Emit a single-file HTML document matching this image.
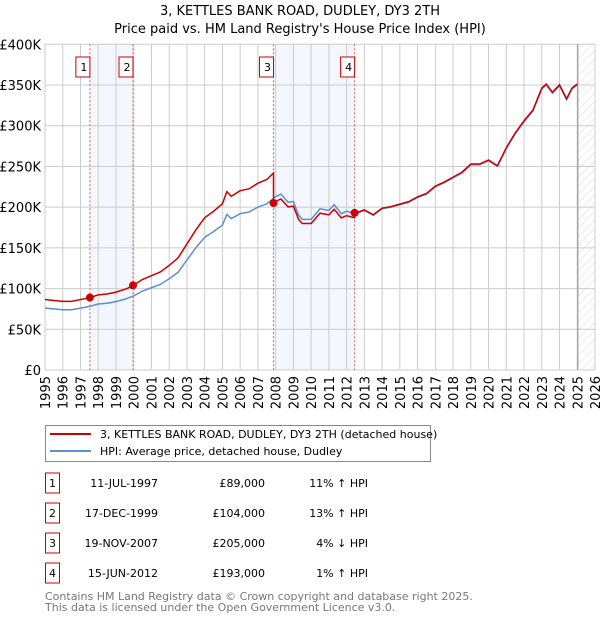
<!DOCTYPE html>
<html><head><meta charset="utf-8"><style>
body{margin:0;background:#fff;width:600px;height:620px;overflow:hidden;font-family:"DejaVu Sans","Liberation Sans",sans-serif;}
svg text{font-family:"DejaVu Sans","Liberation Sans",sans-serif;}
</style></head><body>
<svg id="c" width="600" height="620" xmlns="http://www.w3.org/2000/svg">
<defs><pattern id="hatch" width="6" height="6" patternUnits="userSpaceOnUse" patternTransform="rotate(45)"><line x1="0" y1="0" x2="0" y2="6" stroke="#d8d8d8" stroke-width="1"/></pattern></defs>
<text x="300" y="15" text-anchor="middle" font-size="13">3, KETTLES BANK ROAD, DUDLEY, DY3 2TH</text>
<text x="300" y="33" text-anchor="middle" font-size="13">Price paid vs. HM Land Registry's House Price Index (HPI)</text>
<g id="plot"></g>
<g>
<rect x="45.5" y="425.5" width="385" height="36" fill="#fff" stroke="#888"/>
<line x1="50" y1="434" x2="91" y2="434" stroke="#cc0000" stroke-width="2"/>
<text x="100" y="438" font-size="11">3, KETTLES BANK ROAD, DUDLEY, DY3 2TH (detached house)</text>
<line x1="50" y1="451" x2="91" y2="451" stroke="#5b8fd0" stroke-width="2"/>
<text x="100" y="455" font-size="11">HPI: Average price, detached house, Dudley</text>
</g>
<g id="table" font-size="11"></g>
<text x="45" y="600" font-size="11" fill="#777">Contains HM Land Registry data © Crown copyright and database right 2025.</text>
<text x="45" y="611" font-size="11" fill="#777">This data is licensed under the Open Government Licence v3.0.</text>
</svg>
<script>
const hpiYears=[1995,1995.5,1996,1996.5,1997,1997.5,1998,1998.5,1999,1999.5,2000,2000.5,2001,2001.5,2002,2002.5,2003,2003.5,2004,2004.5,2005,2005.25,2005.5,2006,2006.5,2007,2007.5,2008,2008.3,2008.7,2009,2009.3,2009.5,2010,2010.5,2011,2011.3,2011.7,2012,2012.5,2013,2013.5,2014,2014.5,2015,2015.5,2016,2016.5,2017,2017.5,2018,2018.5,2019,2019.5,2020,2020.5,2021,2021.5,2022,2022.5,2023,2023.25,2023.6,2024,2024.4,2024.7,2025];
const hpiValues=[76,75,74,74,76,78,81,82,84,87,91,97,101,105,112,120,135,150,163,170,178,191,186,192,194,200,204,213,216,206,207,190,185,185,198,196,203,192,195,192,196,190,198,200,203,206,212,216,225,230,236,242,252,252,257,250,272,290,305,318,345,350,340,349,332,345,350];
const saleLabels=["1","2","3","4"];
const saleDates=[1997.53,1999.96,2007.88,2012.45];
const saleDateText=["11-JUL-1997","17-DEC-1999","19-NOV-2007","15-JUN-2012"];
const salePrices=[89000,104000,205000,193000];
const salePriceText=["£89,000","£104,000","£205,000","£193,000"];
const saleDiffText=["11% ↑ HPI","13% ↑ HPI","4% ↓ HPI","1% ↑ HPI"];
const yTicks=[0,50,100,150,200,250,300,350,400];
const yTickLabels=["£0","£50K","£100K","£150K","£200K","£250K","£300K","£350K","£400K"];
const xTicks=[1995,1996,1997,1998,1999,2000,2001,2002,2003,2004,2005,2006,2007,2008,2009,2010,2011,2012,2013,2014,2015,2016,2017,2018,2019,2020,2021,2022,2023,2024,2025,2026];

const NS="http://www.w3.org/2000/svg";
const X0=45,X1=595,Y0=370,Y1=44.3;
const xs=y=>X0+(y-1995)/(2026-1995)*(X1-X0);
const ys=v=>Y0-v/400*(Y0-Y1);
function mk(t,a,p){const e=document.createElementNS(NS,t);for(const k in a)e.setAttribute(k,a[k]);(p||plot).appendChild(e);return e;}
const plot=document.getElementById('plot');
function hpiAt(t){for(let i=0;i<hpiYears.length-1;i++){if(t<=hpiYears[i+1]){const f=(t-hpiYears[i])/(hpiYears[i+1]-hpiYears[i]);return hpiValues[i]+f*(hpiValues[i+1]-hpiValues[i]);}}return hpiValues[hpiValues.length-1];}
let e;
e=mk('rect',{x:xs(saleDates[0]),y:Y1,width:xs(saleDates[1])-xs(saleDates[0]),height:Y0-Y1,fill:'#f3f6fd'});

e=mk('rect',{x:xs(saleDates[2]),y:Y1,width:xs(saleDates[3])-xs(saleDates[2]),height:Y0-Y1,fill:'#f3f6fd'});

e=mk('rect',{x:xs(2025.03),y:Y1,width:X1-xs(2025.03),height:Y0-Y1,fill:'url(#hatch)'});

yTicks.forEach((v,i)=>{let l=mk('line',{x1:X0,x2:X1,y1:ys(v),y2:ys(v),stroke:'#ccc'});

let t=mk('text',{x:X0-4,y:ys(v)+5,'text-anchor':'end','font-size':'13'});t.textContent=yTickLabels[i];
});
xTicks.forEach(yr=>{let l=mk('line',{x1:xs(yr),x2:xs(yr),y1:Y1,y2:Y0,stroke:'#ccc'});

let t=mk('text',{x:0,y:0,'text-anchor':'end','font-size':'13',transform:`translate(${xs(yr)+5},${Y0+6}) rotate(-90)`});t.textContent=yr;
});
e=mk('line',{x1:xs(2025.03),x2:xs(2025.03),y1:Y1,y2:Y0,stroke:'#999','stroke-width':1.2});

saleDates.forEach((d,i)=>{let l=mk('line',{x1:xs(d),x2:xs(d),y1:Y1,y2:Y0,stroke:'#e06060','stroke-dasharray':'2,2'});

let r=mk('rect',{x:xs(d)-20+6,y:57,width:14,height:20,fill:'#fff',stroke:'#cc0000'});

let t=mk('text',{x:xs(d)-6,y:71,'text-anchor':'middle','font-size':'11'});t.textContent=saleLabels[i];
});
const ratios=saleDates.map((d,i)=>salePrices[i]/1000/hpiAt(d));
let rpts=[];
const tt=[...new Set([...hpiYears,...saleDates,...saleDates.map(d=>d-0.001)])].sort((a,b)=>a-b);
tt.forEach(t=>{const h=hpiAt(t);
let k=0;for(let i=0;i<saleDates.length;i++)if(t>=saleDates[i])k=i;
rpts.push(xs(t)+','+ys(h*ratios[k]));});
const hp=[];hpiYears.forEach((t,i)=>hp.push(xs(t)+','+ys(hpiValues[i])));
e=mk('polyline',{points:hp.join(' '),fill:'none',stroke:'#5b8fd0','stroke-width':1.5});

e=mk('polyline',{points:rpts.join(' '),fill:'none',stroke:'#cc0000','stroke-width':1.5});

saleDates.forEach((d,i)=>{let c=mk('circle',{cx:xs(d),cy:ys(salePrices[i]/1000),r:4,fill:'#cc0000'});
});
const tb=document.getElementById('table');
saleLabels.forEach((s,i)=>{const cy=483+i*30;
let r=mk('rect',{x:45.5,y:cy-10,width:14,height:20,fill:'#fff',stroke:'#cc0000'},tb);

let a=mk('text',{x:52.5,y:cy+4,'text-anchor':'middle'},tb);a.textContent=s;

let b=mk('text',{x:158,y:cy+4,'text-anchor':'end'},tb);b.textContent=saleDateText[i];

let c=mk('text',{x:265,y:cy+4,'text-anchor':'end'},tb);c.textContent=salePriceText[i];

let d=mk('text',{x:368,y:cy+4,'text-anchor':'end'},tb);d.textContent=saleDiffText[i];
});
</script>
</body></html>
